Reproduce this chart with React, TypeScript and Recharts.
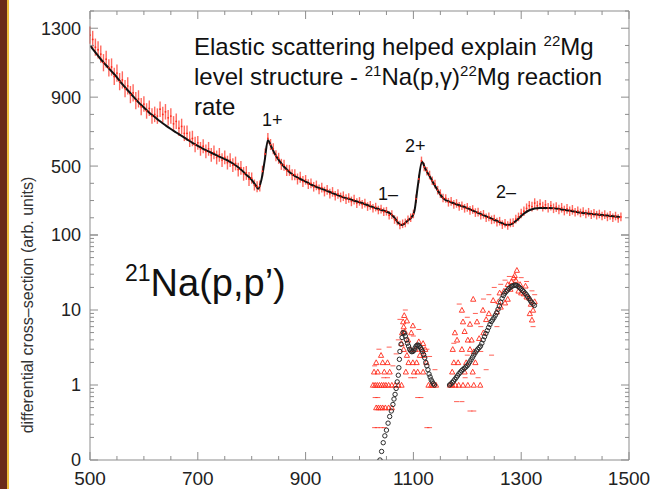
import React from 'react';
import { ComposedChart, Scatter, Line, XAxis, YAxis, ErrorBar } from 'recharts';

const W = 652;
const H = 489;
const SPLIT = 235; // y pixel where the two panels meet
const FRAME = '#8d8d8d';
const RED = '#ff2b1c';
const FONT = '"Liberation Sans", Arial, Helvetica, sans-serif';

// shared energy axis
const X_TICKS = [500, 550, 600, 650, 700, 750, 800, 850, 900, 950, 1000, 1050, 1100, 1150, 1200, 1250, 1300, 1350, 1400, 1450, 1500];
const X_LABELS = [500, 700, 900, 1100, 1300, 1500];

// upper panel (linear)
const TOP_Y_TICKS = [100, 200, 300, 400, 500, 600, 700, 800, 900, 1000, 1100, 1200, 1300, 1400];
const TOP_Y_LABELS: Record<string, string> = { '100': '100', '500': '500', '900': '900', '1300': '1300' };

// lower panel (log)
const LOW_Y_TICKS = [0.1, 0.2, 0.3, 0.4, 0.5, 0.6, 0.7, 0.8, 0.9, 1, 2, 3, 4, 5, 6, 7, 8, 9, 10, 20, 30, 40, 50, 60, 70, 80, 90, 100];
const LOW_Y_LABELS: Record<string, string> = { '0.1': '0', '1': '1', '10': '10', '100': '' };

// elastic data, one value every 5 units starting at 500
const ELASTIC_START = 500;
const ELASTIC_STEP = 5;
const ELASTIC_Y = [
  1260, 1235, 1190, 1175, 1150, 1100, 1120, 1070, 1075, 1020,
  1040, 990, 1000, 950, 965, 915, 925, 880, 890, 845,
  860, 820, 835, 790, 800, 790, 830, 800, 815, 780,
  790, 745, 760, 720, 730, 690, 690, 655, 660, 625,
  635, 600, 615, 585, 600, 565, 580, 550, 565, 535,
  550, 520, 535, 505, 515, 480, 490, 455, 460, 425,
  430, 390, 380, 385, 470, 570, 660, 625, 600, 560,
  545, 510, 505, 475, 475, 450, 450, 425, 435, 410,
  420, 395, 400, 380, 388, 365, 375, 352, 362, 340,
  350, 328, 338, 318, 325, 308, 315, 295, 305, 285,
  295, 278, 285, 265, 272, 255, 262, 245, 250, 235,
  238, 215, 218, 190, 182, 158, 165, 170, 188, 200,
  222, 310, 425, 530, 495, 470, 448, 415, 395, 360,
  340, 315, 312, 290, 295, 278, 283, 266, 270, 255,
  260, 243, 248, 230, 233, 215, 220, 200, 205, 188,
  192, 175, 180, 160, 168, 155, 170, 172, 192, 205,
  225, 238, 255, 270, 265, 285, 270, 280, 265, 275,
  258, 270, 255, 262, 248, 258, 242, 252, 238, 246,
  232, 240, 228, 236, 222, 232, 218, 226, 215, 222,
  210, 218, 205, 214, 200, 210, 196, 205,
];
// error half-width per 100-unit bin (500s, 600s, ... 1400s)
const ELASTIC_ERR = [50, 45, 40, 32, 28, 25, 25, 25, 28, 25];

// R-matrix fit, upper panel
const ELASTIC_FIT: [number, number][] = [
  [500, 1200], [510, 1160], [520, 1120], [530, 1085], [540, 1050], [550, 1015], [560, 975], [570, 940],
  [580, 905], [590, 870], [600, 840], [610, 810], [620, 785], [630, 760], [640, 737], [650, 715],
  [660, 695], [670, 675], [680, 655], [690, 635], [700, 617], [710, 600], [720, 585], [730, 570],
  [740, 555], [750, 540], [760, 525], [770, 505], [780, 480], [790, 450], [800, 420], [808, 385],
  [812, 368], [818, 420], [824, 530], [830, 650], [836, 615], [843, 570], [853, 523], [865, 480],
  [877, 448], [890, 425], [900, 410], [910, 393], [921, 378], [935, 362], [950, 343], [969, 320],
  [985, 305], [1000, 290], [1025, 262], [1040, 246], [1057, 225], [1065, 200], [1072, 170], [1077, 158],
  [1083, 165], [1090, 185], [1097, 204], [1102, 240], [1108, 380], [1116, 525], [1122, 485], [1131, 436],
  [1143, 370], [1155, 314], [1170, 290], [1199, 257], [1220, 228], [1242, 199], [1260, 175], [1274, 158],
  [1283, 165], [1292, 187], [1304, 222], [1316, 245], [1335, 256], [1353, 257], [1385, 243], [1415, 228],
  [1450, 216], [1483, 204],
];

// inelastic calculation (open circles), lower panel
const INEL_CALC: [number, number][] = [
  [1038, 0.1], [1041, 0.13], [1044, 0.17], [1047, 0.21], [1050, 0.25], [1053, 0.31], [1056, 0.38],
  [1059, 0.45], [1062, 0.55], [1064, 0.65], [1066, 0.75], [1068, 0.9], [1070, 1.1], [1072, 1.35],
  [1073, 1.7], [1074, 2.2], [1075, 2.8], [1077, 3.5], [1079, 4.3],
  [1081, 5.0], [1083, 4.9], [1085, 4.5], [1087, 4.0], [1089, 3.6], [1091, 3.3], [1093, 3.0],
  [1095, 2.85], [1097, 2.78], [1099, 2.8], [1101, 2.9], [1103, 3.1], [1105, 3.3], [1107, 3.4],
  [1109, 3.4], [1111, 3.3], [1113, 3.15], [1115, 3.0], [1117, 2.8], [1119, 2.55], [1121, 2.3],
  [1123, 2.0], [1125, 1.8], [1127, 1.6], [1129, 1.4], [1131, 1.28], [1133, 1.17], [1135, 1.1],
  [1137, 1.04], [1139, 1.0],
  [1167, 1.0], [1169.5, 1.03], [1172, 1.08], [1174.5, 1.13], [1177, 1.19], [1179.5, 1.26], [1182, 1.33],
  [1184.5, 1.41], [1187, 1.48], [1189.5, 1.55], [1192, 1.61], [1194.5, 1.67], [1197, 1.73], [1199.5, 1.8],
  [1202, 1.9], [1204.5, 2.03], [1207, 2.17], [1209.5, 2.33], [1212, 2.5], [1214.5, 2.68], [1217, 2.85],
  [1219.5, 3.0], [1222, 3.15], [1224.5, 3.3], [1227, 3.6], [1229.5, 4.0], [1232, 4.4], [1234.5, 4.85],
  [1237, 5.3], [1239.5, 5.85], [1242, 6.4], [1244.5, 7.0], [1247, 7.4], [1249.5, 7.9], [1252, 8.5],
  [1254.5, 9.2], [1257, 10.2], [1259.5, 11.3], [1262, 12.7], [1264.5, 14.3], [1267, 15.6], [1269.5, 16.7],
  [1272, 17.6], [1274.5, 18.4], [1277, 19.2], [1279.5, 20], [1282, 20.6], [1284.5, 21.0], [1287, 21.4],
  [1289.5, 21.5], [1292, 21.2], [1294.5, 20.6], [1297, 19.9], [1299.5, 19.1], [1302, 18.3], [1304.5, 17.6],
  [1307, 16.8], [1309.5, 16.0], [1312, 15.1], [1314.5, 14.2], [1317, 13.3], [1319.5, 12.6], [1322, 12.0],
  [1324.5, 11.5],
];

// measured inelastic yields (triangles)
const INEL_DATA: [number, number][] = [
  [1025, 1], [1029, 1], [1033, 1], [1037, 1], [1041, 1], [1045, 1], [1049, 1], [1054, 1], [1060, 1],
  [1066, 1], [1072, 1], [1078, 1], [1128, 1], [1133, 1], [1137, 1], [1142, 1],
  [1031, 0.5], [1035, 0.5], [1039, 0.5], [1043, 0.5], [1048, 0.5], [1054, 0.5], [1060, 0.5],
  [1027, 1.5], [1034, 1.5], [1046, 1.5], [1056, 1.5], [1086, 1.5], [1101, 1.5], [1108, 1.5], [1118, 1.5],
  [1031, 2], [1043, 2], [1052, 2], [1091, 2], [1099, 2], [1106, 2], [1124, 2],
  [1040, 2.5], [1088, 2.5], [1112, 2.5], [1120, 2.5],
  [1082, 3], [1095, 3], [1104, 3], [1115, 3], [1122, 3],
  [1078, 3.6], [1090, 4], [1110, 3.8], [1118, 3.6],
  [1079, 5], [1084, 5.2], [1096, 5], [1082, 6], [1099, 6.2], [1081, 7], [1088, 7.2], [1083, 8.5],
  [1168, 1], [1172, 1], [1178, 1], [1184, 1], [1192, 1], [1201, 1], [1212, 1], [1224, 1],
  [1172, 1.5], [1195, 1.5], [1210, 1.5], [1175, 2], [1183, 2], [1198, 2], [1215, 2],
  [1173, 3], [1190, 3], [1205, 3], [1212, 2.8], [1181, 4], [1201, 4], [1208, 4], [1222, 4.2],
  [1177, 5], [1195, 5.2], [1230, 5], [1192, 7], [1205, 6.5], [1218, 7], [1235, 7.5],
  [1190, 10], [1229, 10], [1240, 9], [1255, 9.5], [1262, 11],
  [1211, 14], [1248, 13.5], [1258, 13], [1270, 12.5], [1275, 14],
  [1260, 17], [1268, 18], [1280, 19], [1295, 18], [1300, 17], [1305, 16.5], [1310, 15], [1315, 14.5],
  [1275, 22], [1282, 24], [1290, 25], [1298, 22], [1308, 21], [1288, 29], [1292, 34], [1286, 27],
  [1318, 12], [1322, 10], [1320, 7.4], [1325, 13], [1316, 9],
];

// short red bars scattered with the yields
const INEL_BARS: [number, number][] = [
  [1028, 0.27], [1033, 0.27], [1040, 0.27], [1046, 0.27], [1125, 0.27], [1130, 0.27],
  [1029, 0.68], [1034, 0.68], [1108, 0.68], [1114, 0.68], [1045, 1.25], [1052, 1.25], [1095, 1.25],
  [1102, 1.25], [1036, 3], [1055, 3.2], [1068, 2.6], [1100, 4.5], [1110, 5.5], [1075, 7.5], [1085, 10],
  [1072, 4], [1125, 3], [1130, 2.4], [1140, 1.6], [1028, 1.8], [1062, 1.8],
  [1180, 0.6], [1190, 0.6], [1205, 0.45], [1212, 0.45], [1196, 1.25], [1220, 1.25], [1235, 1.6],
  [1245, 2.5], [1175, 3.6], [1200, 8], [1215, 9], [1225, 6], [1185, 12], [1240, 16], [1250, 20],
  [1262, 22], [1270, 25], [1278, 28], [1300, 27], [1310, 24], [1320, 18], [1325, 16], [1255, 6],
  [1322, 6], [1230, 14], [1200, 2.5], [1225, 2.8],
];

const elasticData = ELASTIC_Y.map((y, i) => {
  const x = ELASTIC_START + i * ELASTIC_STEP;
  return { x, y, err: ELASTIC_ERR[Math.min(9, Math.floor((x - 500) / 100))] };
});
const fitData = ELASTIC_FIT.map(([x, y]) => ({ x, y }));
const calcData = INEL_CALC.map(([x, y]) => ({ x, y }));
const triData = INEL_DATA.map(([x, y]) => ({ x, y }));
const barData = INEL_BARS.map(([x, y]) => ({ x, y }));

function yTick(side: 'left' | 'right', labels: Record<string, string>) {
  return (p: any) => {
    const lab = labels[String(p.payload.value)];
    const major = lab !== undefined;
    const dir = side === 'left' ? 1 : -1;
    return (
      <g>
        <line x1={p.x} x2={p.x + dir * (major ? 8 : 4)} y1={p.y} y2={p.y} stroke={FRAME} />
        {side === 'left' && lab ? (
          <text x={p.x - 9} y={p.y} dy="0.36em" textAnchor="end" fontFamily={FONT} fontSize={18} fill="#222">
            {lab}
          </text>
        ) : null}
      </g>
    );
  };
}

function xTick(side: 'top' | 'bottom', showLabels: boolean) {
  return (p: any) => {
    const v = p.payload.value;
    const major = X_LABELS.includes(v);
    const dir = side === 'bottom' ? -1 : 1;
    return (
      <g>
        <line x1={p.x} x2={p.x} y1={p.y} y2={p.y + dir * (major ? 8 : 4)} stroke={FRAME} />
        {showLabels && major ? (
          <text x={p.x} y={p.y + 25} textAnchor="middle" fontFamily={FONT} fontSize={19} fill="#222">
            {v}
          </text>
        ) : null}
      </g>
    );
  };
}

const axisCommon = { tickSize: 0, tickMargin: 0, interval: 0 as const, axisLine: { stroke: FRAME } };
const sup = (fs: number, top: number) => ({ fontSize: fs, position: 'relative' as const, top });

export default function App() {
  return (
    <div style={{ position: 'fixed', left: 0, top: 0, width: W, height: H, background: '#fff', overflow: 'hidden', fontFamily: FONT, color: '#111' }}>
      <div style={{ position: 'absolute', left: 0, top: 0, width: 7, height: H, background: '#6a2c19' }} />
      <div style={{ position: 'absolute', left: 7, top: 0, width: 2, height: H, background: '#efc13e' }} />

      {/* lower panel: inelastic, log scale */}
      <div style={{ position: 'absolute', left: 0, top: 0 }}>
        <ComposedChart width={W} height={H} margin={{ top: SPLIT, right: 0, bottom: 0, left: 0 }}>
          <XAxis xAxisId="b" orientation="bottom" type="number" dataKey="x" domain={[500, 1500]} ticks={X_TICKS} height={29} tick={xTick('bottom', true)} {...axisCommon} allowDataOverflow />
          <XAxis xAxisId="t" orientation="top" type="number" dataKey="x" domain={[500, 1500]} ticks={X_TICKS} height={0} tick={xTick('top', false)} {...axisCommon} allowDataOverflow />
          <YAxis yAxisId="l" orientation="left" type="number" dataKey="y" scale="log" domain={[0.1, 100]} ticks={LOW_Y_TICKS} width={90} tick={yTick('left', LOW_Y_LABELS)} {...axisCommon} allowDataOverflow />
          <YAxis yAxisId="r" orientation="right" type="number" dataKey="y" scale="log" domain={[0.1, 100]} ticks={LOW_Y_TICKS} width={23} tick={yTick('right', LOW_Y_LABELS)} {...axisCommon} allowDataOverflow />
          <Scatter
            xAxisId="b" yAxisId="l" data={barData} dataKey="y" isAnimationActive={false}
            shape={(p: any) => <line x1={p.cx - 2.5} x2={p.cx + 2.5} y1={p.cy} y2={p.cy} stroke={RED} strokeWidth={1} opacity={0.75} />}
          />
          <Scatter
            xAxisId="b" yAxisId="l" data={triData} dataKey="y" isAnimationActive={false}
            shape={(p: any) => (
              <path d={`M${p.cx},${p.cy - 2.6} L${p.cx + 2.6},${p.cy + 2.2} L${p.cx - 2.6},${p.cy + 2.2} Z`} fill="none" stroke={RED} strokeWidth={1} opacity={0.9} />
            )}
          />
          <Scatter
            xAxisId="b" yAxisId="l" data={calcData} dataKey="y" isAnimationActive={false}
            shape={(p: any) => <circle cx={p.cx} cy={p.cy} r={2.2} fill="none" stroke="#2a2a2a" strokeWidth={1} />}
          />
        </ComposedChart>
      </div>

      {/* upper panel: elastic, linear scale */}
      <div style={{ position: 'absolute', left: 0, top: 0 }}>
        <ComposedChart width={W} height={H} margin={{ top: 0, right: 0, bottom: H - SPLIT, left: 0 }}>
          <XAxis xAxisId="b" orientation="bottom" type="number" dataKey="x" domain={[500, 1500]} ticks={X_TICKS} height={0} tick={xTick('bottom', false)} {...axisCommon} allowDataOverflow />
          <XAxis xAxisId="t" orientation="top" type="number" dataKey="x" domain={[500, 1500]} ticks={X_TICKS} height={11} tick={xTick('top', false)} {...axisCommon} allowDataOverflow />
          <YAxis yAxisId="l" orientation="left" type="number" dataKey="y" domain={[100, 1400]} ticks={TOP_Y_TICKS} width={90} tick={yTick('left', TOP_Y_LABELS)} {...axisCommon} allowDataOverflow />
          <YAxis yAxisId="r" orientation="right" type="number" dataKey="y" domain={[100, 1400]} ticks={TOP_Y_TICKS} width={23} tick={yTick('right', TOP_Y_LABELS)} {...axisCommon} allowDataOverflow />
          <Scatter
            xAxisId="b" yAxisId="l" data={elasticData} dataKey="y" isAnimationActive={false}
            shape={(p: any) => <circle cx={p.cx} cy={p.cy} r={0.9} fill={RED} />}
          >
            <ErrorBar dataKey="err" direction="y" width={0} stroke={RED} strokeWidth={1.4} opacity={0.7} />
          </Scatter>
          <Line
            xAxisId="b" yAxisId="l" data={fitData} dataKey="y" type="monotone" stroke="#111" strokeWidth={2}
            dot={false} isAnimationActive={false}
          />
        </ComposedChart>
      </div>

      {/* y axis title */}
      <div style={{ position: 'absolute', left: 28, top: 305, transform: 'translate(-50%, -50%) rotate(-90deg)', whiteSpace: 'nowrap', fontSize: 16, color: '#333' }}>
        differential cross–section (arb. units)
      </div>

      {/* annotation */}
      <div style={{ position: 'absolute', left: 194, top: 33, fontSize: 24, lineHeight: '27px', whiteSpace: 'nowrap' }}>
        Elastic scattering helped explain <span style={sup(15, -9)}>22</span>Mg
        <br />
        level structure - <span style={sup(15, -9)}>21</span>Na(p,γ)<span style={sup(15, -9)}>22</span>Mg reaction
        <br />
        rate
      </div>

      {/* resonance labels */}
      <div style={{ position: 'absolute', left: 262, top: 111, fontSize: 18, lineHeight: '18px' }}>1+</div>
      <div style={{ position: 'absolute', left: 405, top: 137, fontSize: 18, lineHeight: '18px' }}>2+</div>
      <div style={{ position: 'absolute', left: 378, top: 185, fontSize: 18, lineHeight: '18px' }}>1–</div>
      <div style={{ position: 'absolute', left: 496, top: 183, fontSize: 18, lineHeight: '18px' }}>2–</div>

      {/* reaction label */}
      <div style={{ position: 'absolute', left: 125, top: 264, fontSize: 38, lineHeight: '38px', whiteSpace: 'nowrap' }}>
        <span style={sup(23, -15)}>21</span>Na(p,p’)
      </div>
    </div>
  );
}
